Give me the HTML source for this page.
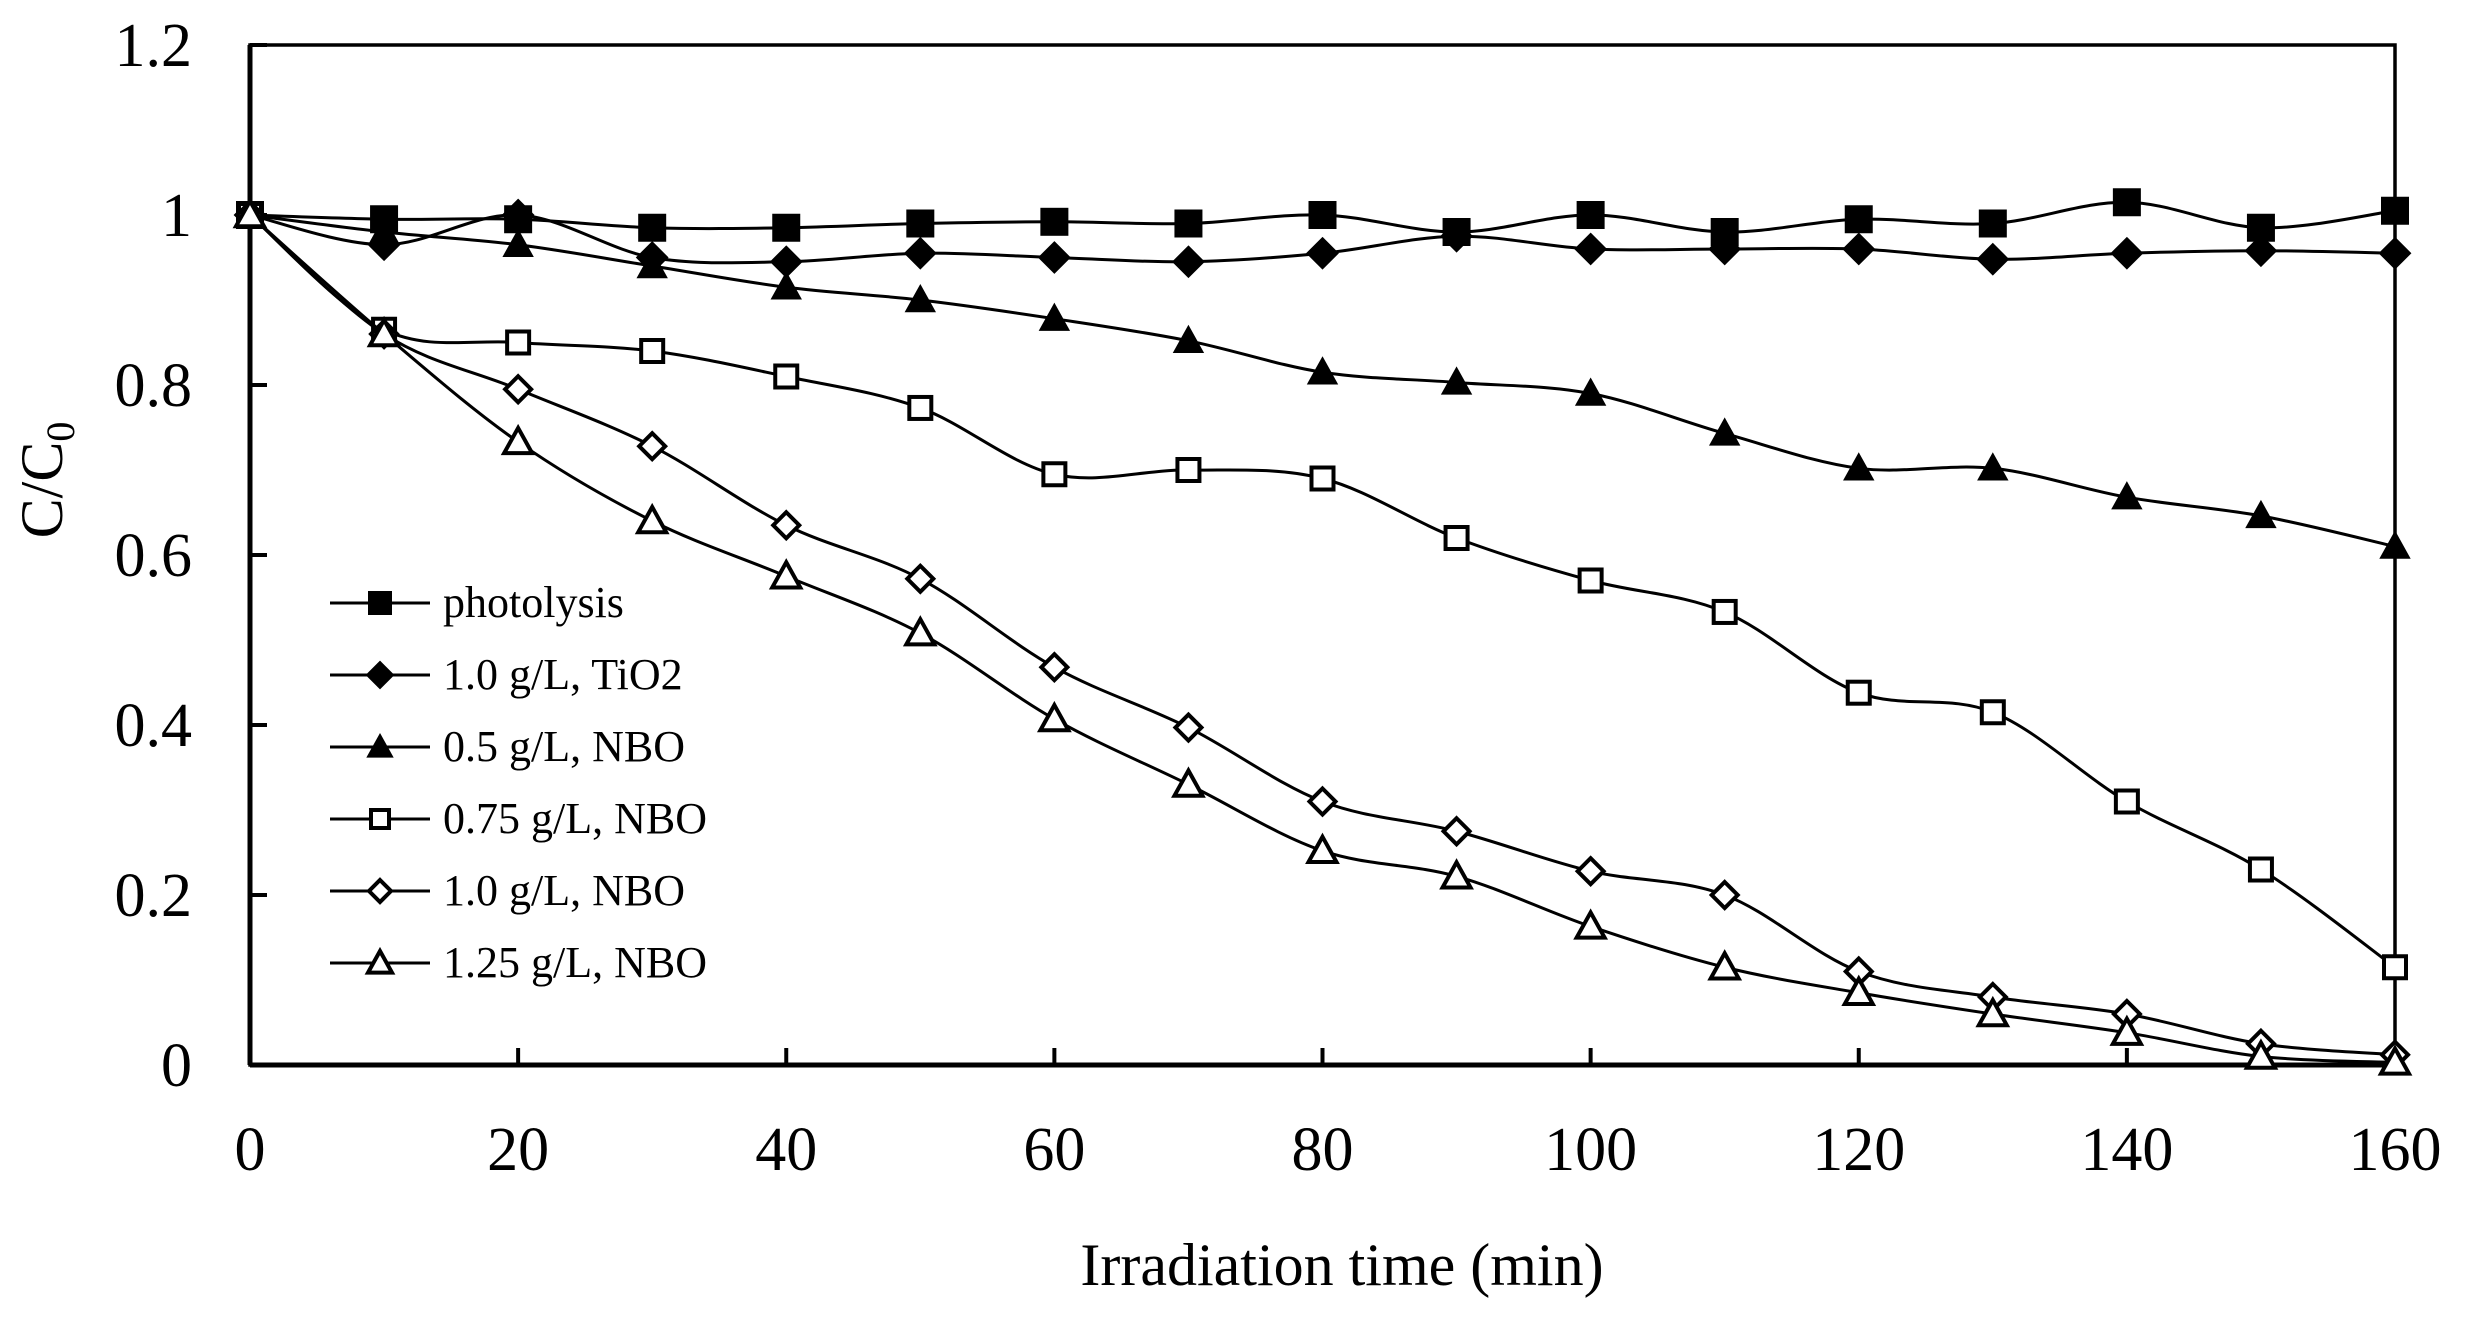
<!DOCTYPE html>
<html><head><meta charset="utf-8"><style>
html,body{margin:0;padding:0;background:#fff;}
svg{display:block;font-family:"Liberation Serif",serif;}
</style></head><body>
<svg id="chart" width="2466" height="1326" viewBox="0 0 2466 1326">
<g id="axes"></g>
<g id="series"></g>
<g id="legend"></g>
<text x="1342" y="1285" font-size="60" text-anchor="middle">Irradiation time (min)</text>
<text transform="translate(62,480) rotate(-90)" font-size="60" text-anchor="middle">C/C<tspan font-size="40" dy="12">0</tspan></text>
</svg>
<script>
const times = [0,10,20,30,40,50,60,70,80,90,100,110,120,130,140,150,160];
const photolysis = [1,0.995,0.995,0.985,0.985,0.99,0.992,0.99,1.0,0.98,1.0,0.98,0.995,0.99,1.015,0.985,1.005];
const tio2 = [1,0.965,1.0,0.95,0.945,0.955,0.95,0.945,0.955,0.975,0.96,0.96,0.96,0.948,0.955,0.958,0.955];
const nbo050 = [1,0.98,0.965,0.94,0.915,0.9,0.878,0.852,0.815,0.803,0.79,0.743,0.702,0.702,0.668,0.646,0.61];
const nbo075 = [1,0.865,0.85,0.84,0.81,0.773,0.695,0.7,0.69,0.62,0.57,0.533,0.438,0.415,0.31,0.23,0.115];
const nbo100 = [1,0.86,0.795,0.728,0.635,0.572,0.468,0.397,0.31,0.275,0.228,0.2,0.11,0.08,0.06,0.025,0.012];
const nbo125 = [1,0.86,0.733,0.64,0.575,0.508,0.407,0.33,0.252,0.222,0.163,0.115,0.085,0.06,0.038,0.01,0.003];
const xTicks = [0,20,40,60,80,100,120,140,160];
const yTicks = [0,0.2,0.4,0.6,0.8,1,1.2];
const yTickLabels = ["0","0.2","0.4","0.6","0.8","1","1.2"];
const seriesNames = ["photolysis","1.0 g/L, TiO2","0.5 g/L, NBO","0.75 g/L, NBO","1.0 g/L, NBO","1.25 g/L, NBO"];
const seriesMarkers = ["square-filled","diamond-filled","triangle-filled","square-open","diamond-open","triangle-open"];

const X0=250,X1=2395,Y0=1065,Y1=45;
const xs=v=>X0+(v-0)/(160-0)*(X1-X0);
const ys=v=>Y0-(v-0)/(1.2-0)*(Y0-Y1);
const NS="http://www.w3.org/2000/svg";
function mk(tag,attrs,parent){const e=document.createElementNS(NS,tag);for(const k in attrs)e.setAttribute(k,attrs[k]);parent.appendChild(e);return e;}

const axes=document.getElementById('axes');
let frame=mk('rect',{x:X0,y:Y1,width:X1-X0,height:Y0-Y1,fill:'none',stroke:'#000','stroke-width':3.5},axes);


let ya=mk('line',{x1:X0,y1:Y1,x2:X0,y2:Y0,stroke:'#000','stroke-width':5},axes);


let xa=mk('line',{x1:X0,y1:Y0,x2:X1,y2:Y0,stroke:'#000','stroke-width':5},axes);


yTicks.forEach((v,i)=>{
  const y=ys(v);
  let t=mk('line',{x1:X0,y1:y,x2:X0+17,y2:y,stroke:'#000','stroke-width':4},axes);
  
  
  let l=mk('text',{x:X0-58,y:y+21,'font-size':62,'text-anchor':'end'},axes);
  l.textContent=yTickLabels[i];
  
  
});
xTicks.forEach(v=>{
  const x=xs(v);
  let t=mk('line',{x1:x,y1:Y0,x2:x,y2:Y0-17,stroke:'#000','stroke-width':4},axes);
  
  
  let l=mk('text',{x:x,y:Y0+105,'font-size':62,'text-anchor':'middle'},axes);
  l.textContent=String(v);
  
  
});

function smoothPath(pts){
  let d=`M${pts[0][0]},${pts[0][1]}`;
  for(let i=0;i<pts.length-1;i++){
    const p0=pts[i-1]||pts[i],p1=pts[i],p2=pts[i+1],p3=pts[i+2]||p2;
    const c1=[p1[0]+(p2[0]-p0[0])/6,p1[1]+(p2[1]-p0[1])/6];
    const c2=[p2[0]-(p3[0]-p1[0])/6,p2[1]-(p3[1]-p1[1])/6];
    d+=` C${c1[0]},${c1[1]} ${c2[0]},${c2[1]} ${p2[0]},${p2[1]}`;
  }
  return d;
}
function marker(type,x,y,s,parent){
  const filled=type.endsWith('filled');
  const st={fill:filled?'#000':'#fff',stroke:'#000','stroke-width':filled?2:4};
  let e;
  if(type.startsWith('square')){const h=filled?s/2:s/2-2;e=mk('rect',Object.assign({x:x-h,y:y-h,width:2*h,height:2*h},st),parent);}
  else if(type.startsWith('diamond')){const h=filled?s/2+2:s/2;e=mk('polygon',Object.assign({points:`${x},${y-h} ${x+h},${y} ${x},${y+h} ${x-h},${y}`},st),parent);}
  else{const h=s/2+1;e=mk('polygon',Object.assign({points:`${x},${y-h} ${x+h},${y+h*0.8} ${x-h},${y+h*0.8}`},st),parent);}
  return e;
}
const allSeries=[photolysis,tio2,nbo050,nbo075,nbo100,nbo125];
const sg=document.getElementById('series');
allSeries.forEach((vals,si)=>{
  const g=mk('g',{},sg);
  
  
  const pts=vals.map((v,i)=>[xs(times[i]),ys(v)]);
  const p=mk('path',{d:smoothPath(pts),fill:'none',stroke:'#000','stroke-width':3},g);
  
  
  pts.forEach(pt=>{
    const m=marker(seriesMarkers[si],pt[0],pt[1],26,g);
    
    
  });
});
const lg=document.getElementById('legend');
seriesNames.forEach((n,i)=>{
  const y=603+i*72;
  const g=mk('g',{},lg);
  
  
  mk('line',{x1:330,y1:y,x2:430,y2:y,stroke:'#000','stroke-width':3},g);
  marker(seriesMarkers[i],380,y,22,g);
  const t=mk('text',{x:443,y:y+14,'font-size':44},g);
  t.textContent=n;
});
</script>
</body></html>
